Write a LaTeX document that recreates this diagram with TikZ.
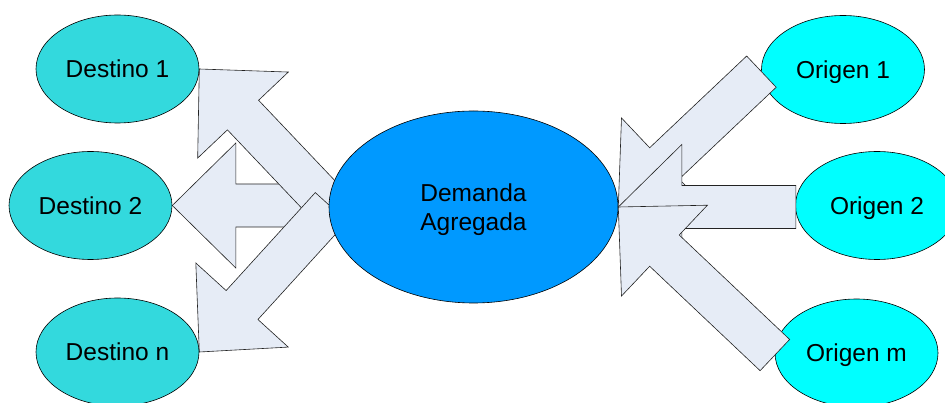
\documentclass[tikz,border=0pt]{standalone}
\usepackage{fontspec}
\setmainfont{Liberation Sans}
\usetikzlibrary{shapes.geometric}
\definecolor{destc}{HTML}{33D9DD}
\definecolor{origc}{HTML}{00FFFF}
\definecolor{demc}{HTML}{0099FF}
\definecolor{arrc}{HTML}{E6ECF6}
\definecolor{edgec}{HTML}{222222}
\pgfdeclarelayer{bg}
\pgfsetlayers{bg,main}
\tikzset{
  blob/.style={ellipse, draw=black, line width=0.6pt, inner sep=0pt,
    minimum width=163pt, minimum height=108pt,
    font=\fontsize{24.5}{29.3}\selectfont, text height=17.5pt, text depth=0pt},
  dest/.style={blob, fill=destc},
  orig/.style={blob, fill=origc},
  barrow/.style={draw=edgec, fill=arrc, line width=0.6pt, line join=miter}
}
\newcommand\blockarr[3]{%
  \draw[barrow, shift={(#1)}, rotate=#2]
    (0,0) -- (63.5,62.5) -- (63.5,21.5) -- (#3,21.5) -- (#3,-21.5)
    -- (63.5,-21.5) -- (63.5,-62.5) -- cycle;}
\begin{document}
\begin{tikzpicture}[x=1pt,y=-1pt]
\useasboundingbox (0,0) rectangle (945,403);
% destinations
\node[dest] (d1) at (117.5,69) {Destino 1};
\node[dest] (d2) at (90.5,205.5) {Destino 2};
\node[dest] (dn) at (117.5,352) {Destino n};
% origins
\node[orig] (o1) at (843,69.5) {Origen 1};
\node[orig] (o2) at (877,205.5) {Origen 2};
\node[orig] (om) at (856.5,353) {Origen m};
% central node
\node[ellipse, draw=black, line width=0.6pt, fill=demc, inner sep=0pt,
  minimum width=289pt, minimum height=192pt, align=center,
  font=\fontsize{24.5}{29.3}\selectfont] (dem) at (473.5,207)
  {\rule{0pt}{23.5pt}Demanda\\Agregada};
% arrows from the central node to the destinations
\begin{pgfonlayer}{bg}
\blockarr{d2.east}{0}{140}
\blockarr{d1.east}{-46.5}{196}
\blockarr{dn.east}{47.7}{196}
\end{pgfonlayer}
% arrows from the origins to the central node
\blockarr{dem.east}{43.4}{197}
\blockarr{dem.east}{0}{177.5}
\blockarr{dem.east}{-43.4}{215.5}
\end{tikzpicture}
\end{document}
